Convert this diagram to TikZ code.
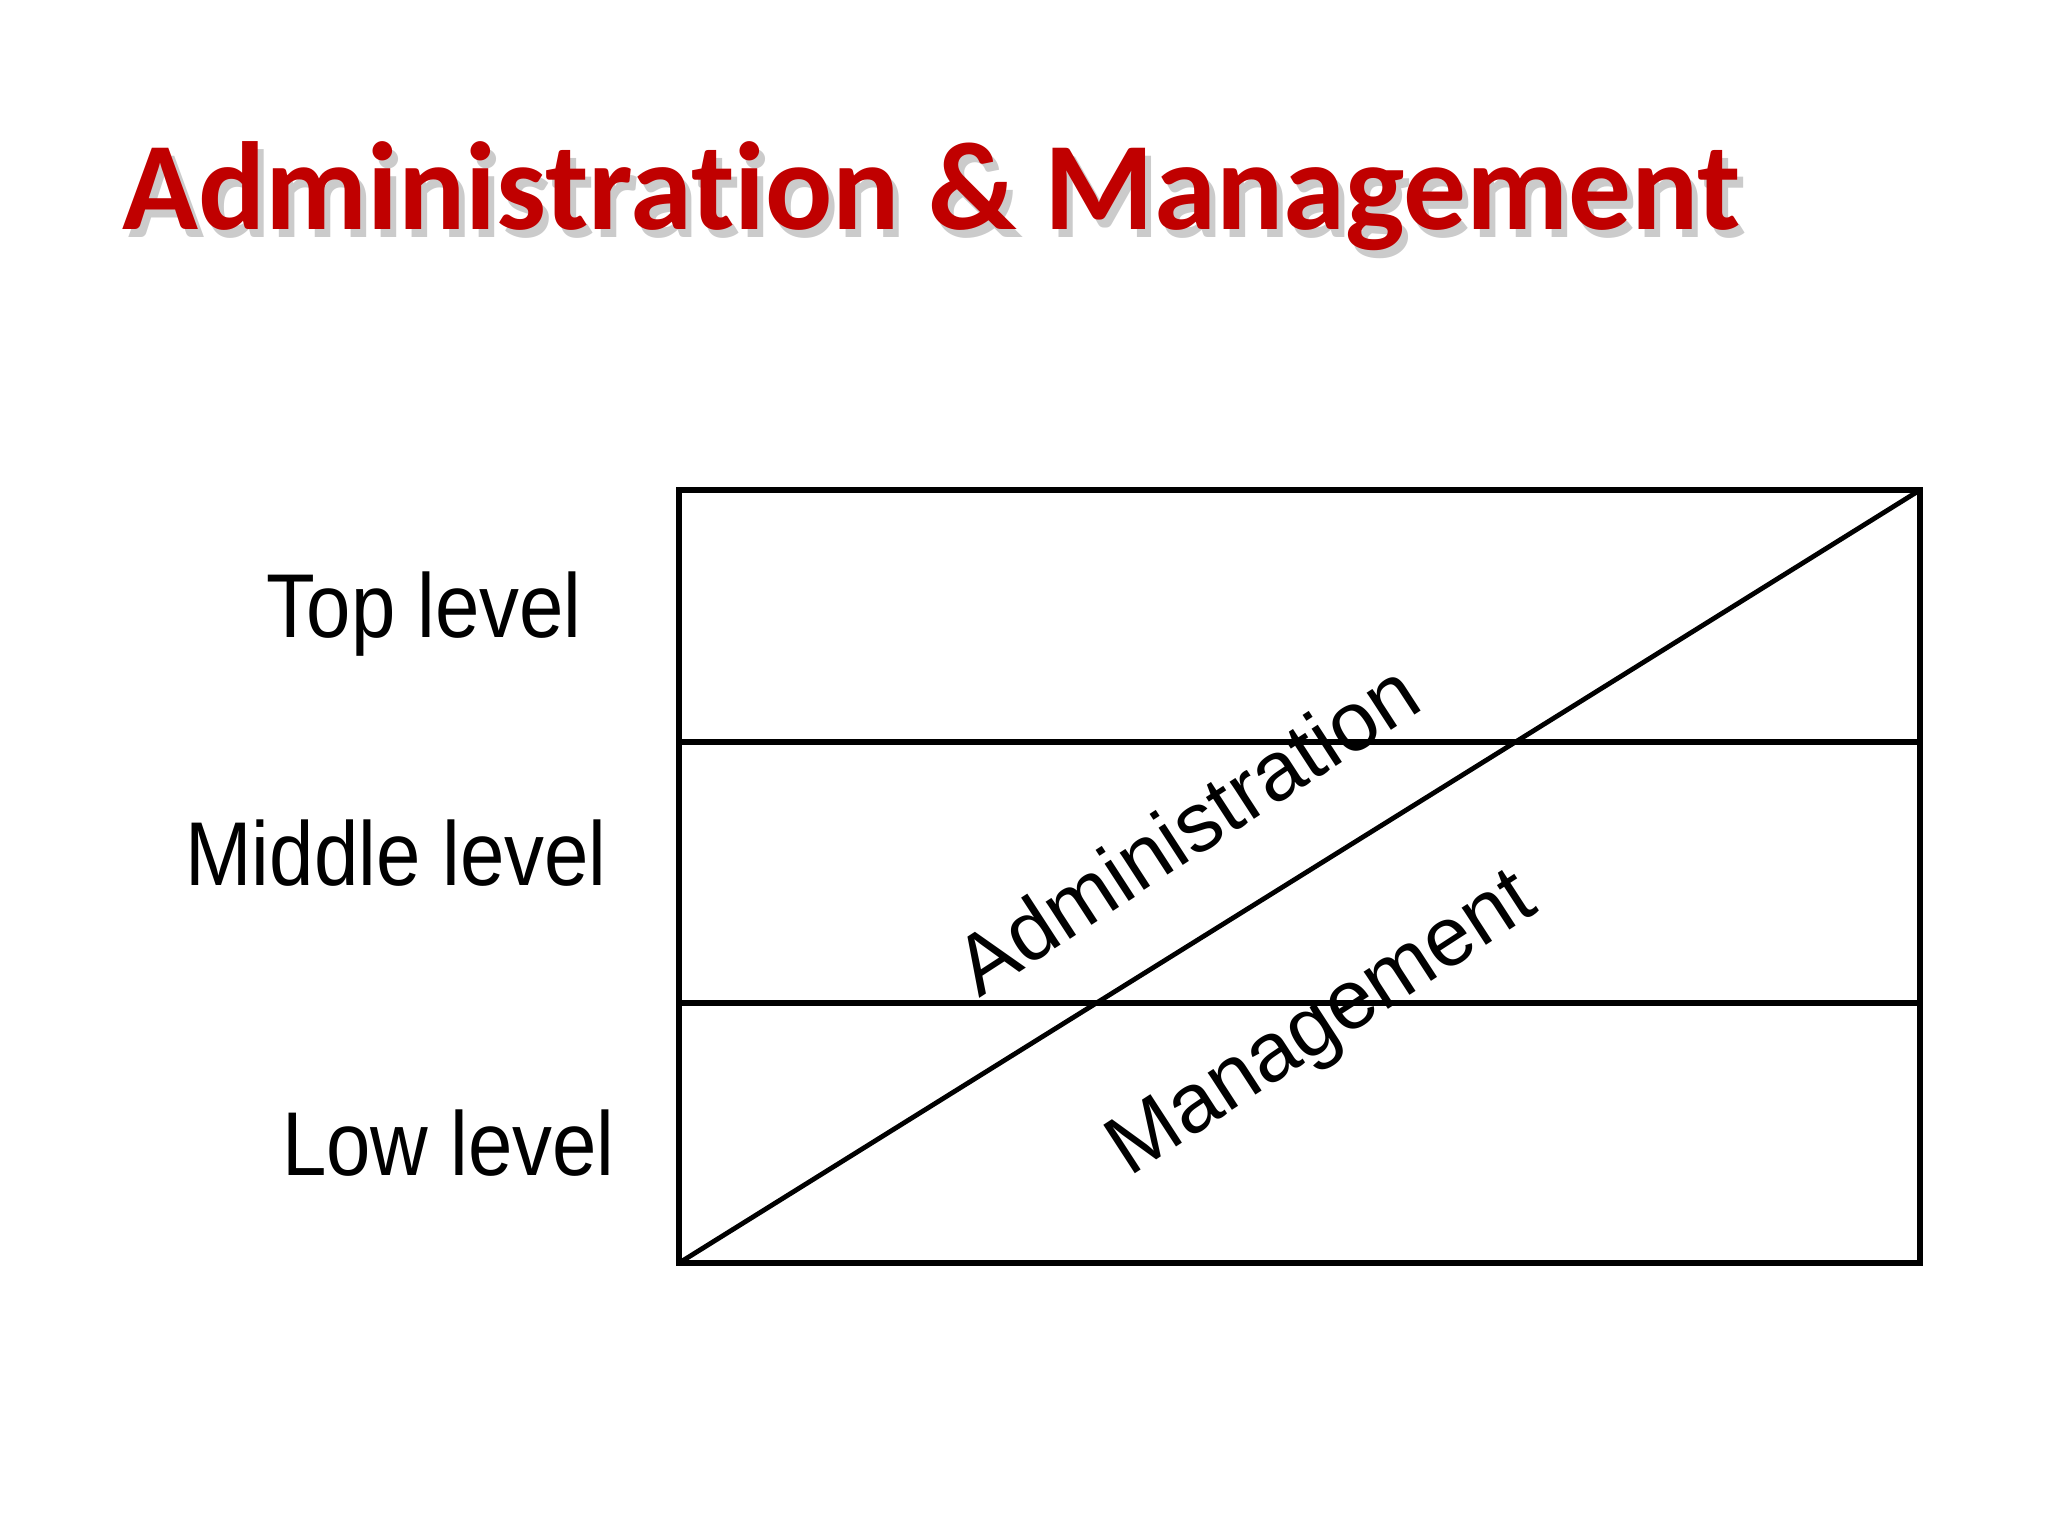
\documentclass[tikz,border=0pt]{standalone}
\usepackage{fontspec}
\setmainfont{Liberation Sans}
\newfontfamily\titlefont[Ligatures=NoCommon]{Carlito}
\definecolor{titlered}{RGB}{192,0,0}
\tikzset{
  titletext/.style={anchor=base west,inner sep=0pt,font=\titlefont\bfseries\fontsize{94}{100}\selectfont},
  leveltext/.style={anchor=base east,inner sep=0pt,xscale=0.88,font=\fontsize{68}{72}\selectfont},
  slanttext/.style={inner sep=0pt,rotate=33,font=\fontsize{63}{68}\selectfont},
  boxline/.style={line width=5pt},
  diagline/.style={line width=3.6pt}
}
\begin{document}
\begin{tikzpicture}[x=0.75pt,y=0.75pt,yscale=-1,xscale=1]
\useasboundingbox (0,0) rectangle (2048,1536);

% Title with shadow
\node[titletext,text=black!45,opacity=0.45] (shadow) at (128,237) {Administration \& Management};
\node[titletext,text=titlered] (title) at (122,229) {Administration \& Management};

% Box corners
\coordinate (bl) at (679,1263);
\coordinate (br) at (1920,1263);
\coordinate (tl) at (679,490);
\coordinate (tr) at (1920,490);
\coordinate (ml) at (679,742);
\coordinate (mr) at (1920,742);
\coordinate (ll) at (679,1003);
\coordinate (lr) at (1920,1003);

% Box and dividers
\draw[boxline] (bl) rectangle (tr);
\draw[boxline] (ml) -- (mr);
\draw[boxline] (ll) -- (lr);

% Diagonal
\draw[diagline] (bl) -- (tr);

% Level labels
\node[leveltext] (top) at (582,637) {Top level};
\node[leveltext] (middle) at (607,885) {Middle level};
\node[leveltext] (low) at (615,1175) {Low level};

% Slanted labels
\node[slanttext] (admin) at (1186,828) {Administration};
\node[slanttext] (mgmt) at (1324,1027) {Management};

\end{tikzpicture}
\end{document}
